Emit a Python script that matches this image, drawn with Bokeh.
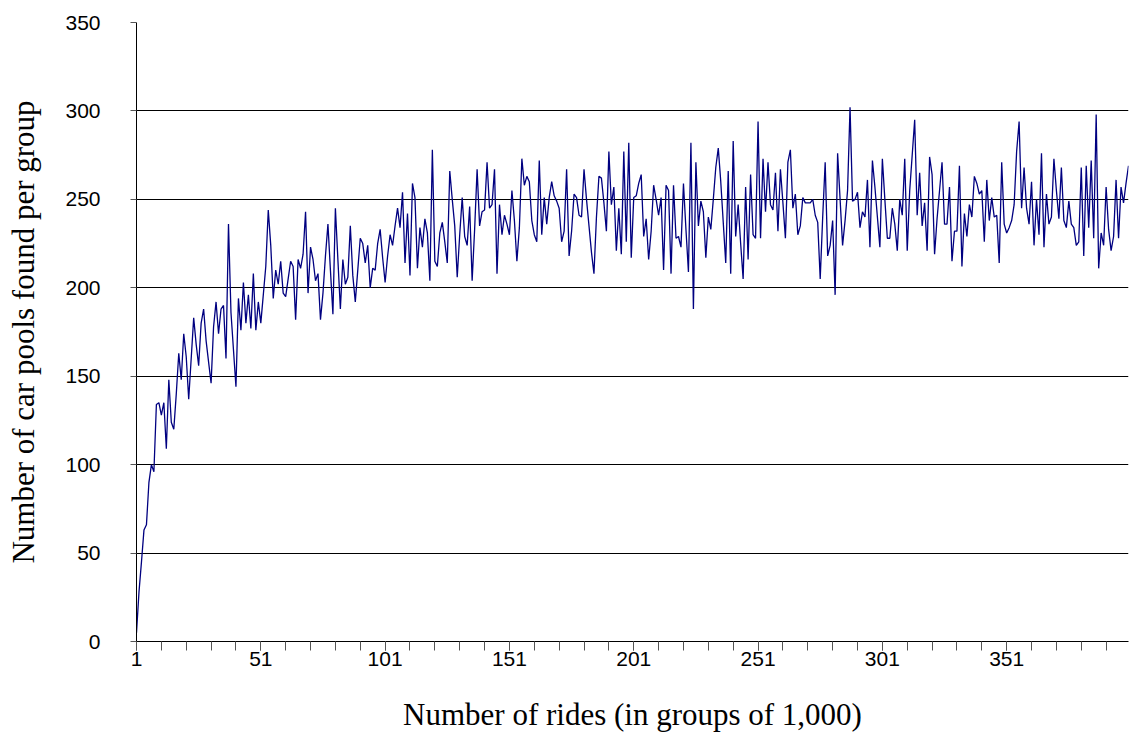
from bokeh.plotting import figure
from bokeh.models import FixedTicker, Range1d
from bokeh.embed import file_html
from bokeh.resources import INLINE

# Number of car pools found per group, groups 1..400
pools = [
    5, 28, 45, 63, 66, 90, 100, 96, 134, 135,
    128, 135, 109, 148, 124, 120, 140, 163, 148, 174,
    161, 137, 160, 183, 168, 156, 180, 188, 170, 158,
    146, 178, 192, 174, 188, 190, 160, 236, 186, 165,
    144, 194, 176, 203, 180, 196, 177, 208, 176, 192,
    180, 196, 212, 244, 224, 194, 210, 202, 215, 197,
    195, 205, 215, 212, 182, 216, 211, 219, 243, 197,
    223, 216, 204, 208, 182, 197, 218, 236, 210, 185,
    245, 216, 188, 216, 202, 206, 235, 207, 192, 210,
    228, 225, 214, 224, 200, 211, 210, 225, 233, 217,
    203, 218, 230, 224, 235, 245, 234, 254, 214, 242,
    207, 259, 251, 211, 234, 223, 239, 231, 204, 278,
    215, 212, 231, 237, 226, 214, 266, 250, 235, 206,
    230, 251, 229, 224, 246, 204, 233, 267, 235, 243,
    244, 271, 245, 247, 267, 208, 247, 230, 241, 236,
    230, 255, 238, 215, 234, 273, 258, 263, 260, 238,
    230, 226, 272, 230, 251, 236, 251, 260, 252, 249,
    245, 226, 232, 267, 218, 232, 253, 251, 241, 240,
    267, 250, 235, 220, 208, 240, 263, 262, 248, 232,
    277, 247, 257, 221, 245, 219, 277, 226, 282, 217,
    251, 252, 259, 264, 229, 239, 216, 232, 258, 250,
    241, 251, 210, 258, 255, 208, 258, 228, 229, 223,
    259, 233, 209, 282, 188, 271, 235, 249, 243, 217,
    240, 233, 250, 268, 279, 260, 237, 214, 266, 208,
    283, 229, 247, 225, 205, 257, 216, 264, 230, 228,
    294, 228, 273, 243, 271, 247, 244, 265, 232, 267,
    248, 228, 271, 278, 245, 253, 230, 235, 251, 248,
    248, 248, 250, 241, 237, 205, 240, 271, 218, 224,
    238, 196, 276, 250, 224, 238, 255, 302, 249, 250,
    254, 234, 243, 240, 261, 223, 272, 257, 240, 223,
    273, 250, 228, 228, 245, 236, 221, 250, 241, 273,
    221, 255, 275, 295, 241, 265, 235, 248, 221, 274,
    264, 219, 239, 255, 271, 236, 236, 257, 215, 232,
    232, 269, 212, 242, 229, 247, 240, 263, 259, 253,
    255, 226, 261, 238, 251, 240, 241, 214, 271, 236,
    231, 234, 238, 247, 277, 294, 245, 268, 245, 236,
    260, 224, 250, 230, 276, 223, 253, 236, 240, 273,
    255, 239, 268, 238, 234, 249, 236, 234, 224, 226,
    268, 218, 269, 234, 272, 228, 298, 211, 231, 224,
    257, 233, 221, 229, 261, 228, 257, 248, 259, 269,
]
groups = list(range(1, len(pools) + 1))

y_ticks = [0, 50, 100, 150, 200, 250, 300, 350]
x_label_ticks = [1, 51, 101, 151, 201, 251, 301, 351]
x_minor_ticks = list(range(1, 400, 10))

H = 752
p = figure(width=1129, height=H, output_backend="svg", toolbar_location=None,
           x_range=Range1d(1, len(pools)), y_range=Range1d(0, 350),
           min_border_left=136, min_border_right=1, min_border_top=22,
           min_border_bottom=H - 641)
p.outline_line_color = None
p.background_fill_color = "white"

p.line(groups, pools, line_color="#000080", line_width=1.3)

p.xgrid.visible = False
p.ygrid.grid_line_color = "black"
p.ygrid.grid_line_width = 1

p.yaxis.ticker = FixedTicker(ticks=y_ticks)
p.xaxis.ticker = FixedTicker(ticks=x_label_ticks, minor_ticks=x_minor_ticks)

for ax in (p.xaxis, p.yaxis):
    ax.axis_line_color = "black"
    ax.major_tick_line_color = "#555555"
    ax.minor_tick_line_color = "#555555"
    ax.major_label_text_font = "Liberation Sans"
    ax.major_label_text_font_size = "21px"
    ax.major_label_text_color = "black"
    ax.axis_label_text_font = "Liberation Serif"
    ax.axis_label_text_font_style = "normal"
    ax.axis_label_text_font_size = "31px"
    ax.axis_label_text_color = "black"

p.xaxis.major_tick_in = 0
p.xaxis.major_tick_out = 9
p.xaxis.minor_tick_in = 0
p.xaxis.minor_tick_out = 9
p.xaxis.major_label_standoff = 1
p.xaxis.axis_label = "Number of rides (in groups of 1,000)"
p.xaxis.axis_label_standoff = 28

p.yaxis.major_tick_in = 0
p.yaxis.major_tick_out = 6
p.yaxis.minor_tick_line_color = None
p.yaxis.major_label_standoff = 30
p.yaxis.axis_label = "Number of car pools found per group"
p.yaxis.axis_label_standoff = 21

open("out.html", "w").write(file_html(p, INLINE))
